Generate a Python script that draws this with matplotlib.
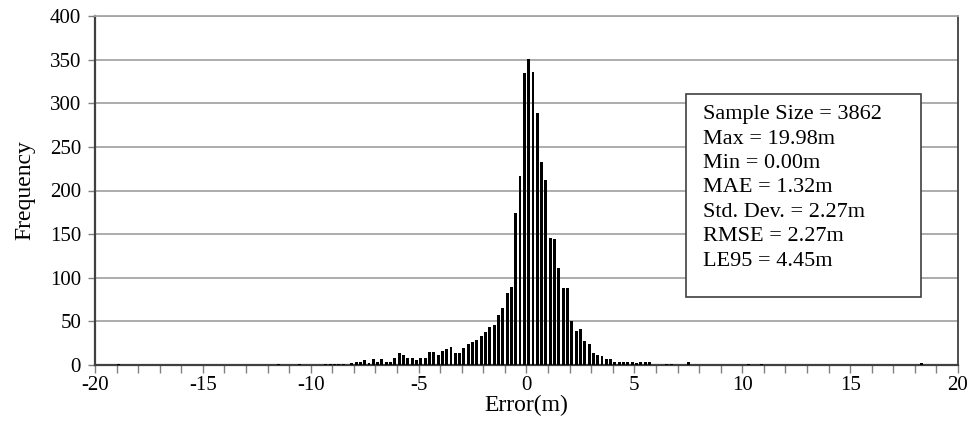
import matplotlib
matplotlib.use("Agg")
import matplotlib.pyplot as plt
from matplotlib.patches import Rectangle
from matplotlib.ticker import MultipleLocator

# ---- data (bin centres of 0.2 m wide bins, and their counts) ----
bin_centers = [-18.9, -11.5, -10.5, -9.3, -9.1, -8.9, -8.7, -8.5, -8.1, -7.9,
               -7.7, -7.5, -7.3, -7.1, -6.9, -6.7, -6.5, -6.3, -6.1, -5.9,
               -5.7, -5.5, -5.3, -5.1, -4.9, -4.7, -4.5, -4.3, -4.1, -3.9,
               -3.7, -3.5, -3.3, -3.1, -2.9, -2.7, -2.5, -2.3, -2.1, -1.9,
               -1.7, -1.5, -1.3, -1.1, -0.9, -0.7, -0.5, -0.3, -0.1, 0.1,
               0.3, 0.5, 0.7, 0.9, 1.1, 1.3, 1.5, 1.7, 1.9, 2.1,
               2.3, 2.5, 2.7, 2.9, 3.1, 3.3, 3.5, 3.7, 3.9, 4.1,
               4.3, 4.5, 4.7, 4.9, 5.1, 5.3, 5.5, 5.7, 6.5, 6.7,
               7.5, 10.3, 10.9, 18.3]
counts = [1, 1, 1, 1, 1, 1, 1, 1, 2, 4,
          3, 6, 2, 7, 4, 7, 3, 3, 8, 14,
          12, 8, 8, 6, 8, 8, 15, 15, 11, 16,
          18, 21, 14, 14, 20, 24, 26, 29, 33, 38,
          43, 46, 57, 65, 82, 89, 174, 217, 335, 351,
          336, 289, 233, 212, 146, 144, 111, 88, 88, 51,
          39, 41, 28, 24, 14, 11, 10, 7, 7, 4,
          4, 3, 3, 4, 2, 3, 4, 4, 1, 1,
          3, 1, 1, 2]
bin_width = 0.2

x_ticks = [-20, -15, -10, -5, 0, 5, 10, 15, 20]
y_ticks = [0, 50, 100, 150, 200, 250, 300, 350, 400]

stats_lines = ["Sample Size = 3862", "Max = 19.98m", "Min = 0.00m",
               "MAE = 1.32m", "Std. Dev. = 2.27m", "RMSE = 2.27m",
               "LE95 = 4.45m"]

# ---- figure ----
plt.rcParams['font.family'] = ['Liberation Serif', 'DejaVu Serif']
W, H = 978, 425
fig = plt.figure(figsize=(W / 100, H / 100), dpi=100)
L, R, T, B = 95, 958, 16, 365
ax = fig.add_axes([L / W, 1 - B / H, (R - L) / W, (B - T) / H])

ax.bar(bin_centers, counts, width=bin_width * 0.68, color='black',
       edgecolor='none', zorder=3)

ax.set_xlim(-20, 20)
ax.set_ylim(0, 400)
ax.set_xticks(x_ticks)
ax.set_xticklabels([str(v) for v in x_ticks])
ax.xaxis.set_minor_locator(MultipleLocator(1))
ax.set_yticks(y_ticks)

ax.yaxis.grid(True, color='#a6a6a6', linewidth=1.3, zorder=0)
ax.set_axisbelow(True)

for s in ['left', 'bottom']:
    ax.spines[s].set_color('#404040')
    ax.spines[s].set_linewidth(1.6)
ax.spines['right'].set_color('#404040')
ax.spines['right'].set_linewidth(1.3)
ax.spines['top'].set_color('#a6a6a6')
ax.spines['top'].set_linewidth(1.3)

ax.tick_params(axis='x', which='both', direction='out', length=6,
               width=1, color='#808080', labelsize=15, pad=2)
ax.tick_params(axis='y', which='major', direction='out', length=5,
               width=1, color='#808080', labelsize=15, pad=5)

ax.set_xlabel('Error(m)', fontsize=17, labelpad=0)
ax.set_ylabel('Frequency', fontsize=17, labelpad=10)

# stats box
def ax_x(px):
    return (px - L) / (R - L)

def ax_y(py):
    return (B - py) / (B - T)

box = Rectangle((ax_x(686), ax_y(297)), ax_x(921) - ax_x(686),
                ax_y(94) - ax_y(297), transform=ax.transAxes,
                facecolor='white', edgecolor='#404040', linewidth=1.2,
                zorder=5)
ax.add_patch(box)
line_y = [115, 140, 164, 188, 213, 237, 262]
for txt, py in zip(stats_lines, line_y):
    ax.text(ax_x(703), ax_y(py), txt, transform=ax.transAxes,
            fontsize=16, va='center', ha='left', zorder=6)

fig.savefig('out.png', dpi=100)
